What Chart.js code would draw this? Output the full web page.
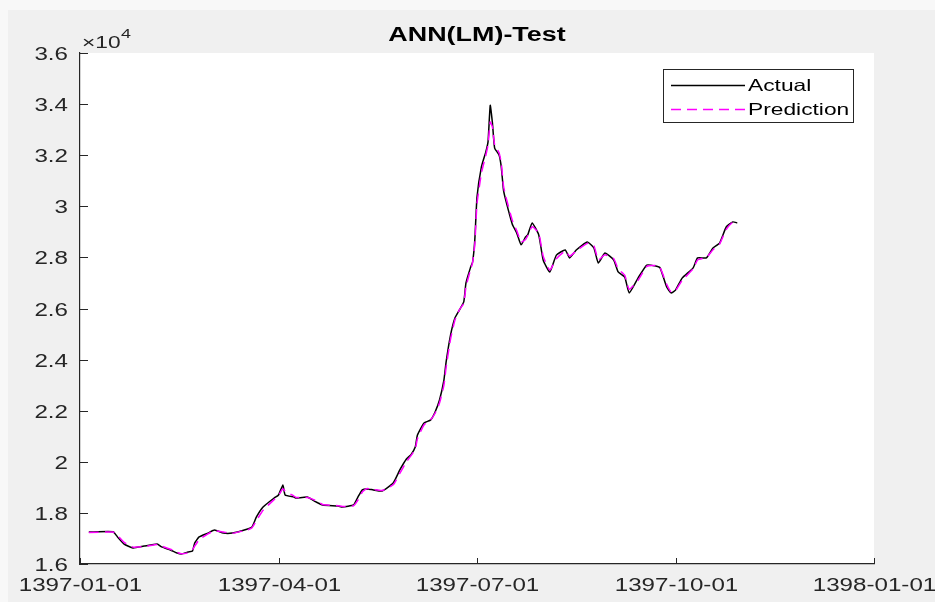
<!DOCTYPE html>
<html>
<head>
<meta charset="utf-8">
<script src="https://cdn.jsdelivr.net/npm/chart.js@4.4.1/dist/chart.umd.min.js"></script>
<style>
  html, body { margin: 0; padding: 0; background: #f0f0f0; }
  canvas { display: block; }
</style>
</head>
<body>
<canvas id="annChart" width="935" height="602"></canvas>
<script>
// day of year 1397 (90 days per quarter on the axis)
const days = [
  4, 15, 17, 20, 24, 29, 35, 37, 41, 44,
  46, 49, 51, 52, 54, 58, 61, 65, 69, 76,
  78, 80, 83, 88, 90, 92, 93, 97, 98, 103,
  107, 110, 117, 119, 124, 126, 128, 130, 133, 137,
  142, 145, 148, 150, 152, 153, 156, 159, 161, 163,
  165, 166, 168, 170, 172, 174, 175, 177, 178, 179,
  180, 182, 184, 185, 186, 187, 188, 190, 191, 192,
  193, 196, 198, 200, 202, 203, 205, 208, 210, 213,
  216, 220, 222, 225, 230, 233, 235, 238, 242, 244,
  247, 249, 253, 257, 261, 263, 266, 268, 270, 273,
  278, 280, 284, 287, 290, 293, 296, 298
]

const actual = [
  17250, 17260, 17060, 16780, 16630, 16700, 16780, 16670, 16550, 16430,
  16390, 16470, 16510, 16820, 17060, 17210, 17330, 17210, 17210, 17370,
  17450, 17840, 18230, 18580, 18700, 19090, 18700, 18620, 18580, 18620,
  18430, 18310, 18270, 18230, 18310, 18620, 18900, 18940, 18900, 18860,
  19170, 19680, 20110, 20270, 20580, 21050, 21520, 21640, 21950, 22420,
  23200, 23910, 24960, 25630, 25940, 26260, 27000, 27590, 27820, 28680,
  30360, 31540, 32130, 32520, 33950, 33260, 32280, 32010, 31540, 30640,
  30250, 29300, 28960, 28490, 28800, 28880, 29350, 28880, 27900, 27430,
  28090, 28290, 27980, 28290, 28600, 28370, 27780, 28170, 27900, 27430,
  27230, 26610, 27190, 27700, 27660, 27590, 26840, 26610, 26720, 27190,
  27590, 27980, 27980, 28370, 28560, 29190, 29390, 29350
]

const prediction = [
  17230, 17250, 17120, 16850, 16660, 16680, 16760, 16700, 16580, 16460,
  16400, 16440, 16560, 16700, 16950, 17180, 17300, 17250, 17200, 17340,
  17420, 17700, 18100, 18520, 18680, 18950, 18850, 18660, 18600, 18600,
  18480, 18330, 18280, 18250, 18280, 18500, 18820, 18950, 18920, 18880,
  19100, 19550, 20000, 20230, 20500, 20900, 21450, 21650, 21900, 22300,
  23000, 23700, 24800, 25550, 25950, 26200, 26850, 27500, 27800, 28500,
  30100, 31300, 32000, 32400, 33300, 33100, 32400, 32100, 31700, 30800,
  30400, 29450, 29050, 28600, 28700, 28850, 29200, 28950, 28050, 27500,
  27950, 28250, 28050, 28250, 28550, 28450, 27900, 28100, 27950, 27550,
  27300, 26750, 27100, 27650, 27680, 27600, 26950, 26650, 26700, 27100,
  27550, 27900, 28000, 28300, 28520, 29100, 29380, 29300
]

const xTickDays = [0, 90, 180, 270, 360]
const xTickLabels = ["1397-01-01", "1397-04-01", "1397-07-01", "1397-10-01", "1398-01-01"]

const AXIS = "#262626"
const STRETCH = 1.38 // the reference text is wider than it is tall

function toPoints(values) {
  return values.map((v, i) => ({ x: days[i], y: v }))
}

function stretchedText(ctx, text, x, y, font, align, color) {
  ctx.save()
  ctx.translate(x, y)
  ctx.scale(STRETCH, 1)
  ctx.font = font
  ctx.fillStyle = color
  ctx.textAlign = align
  ctx.textBaseline = "middle"
  ctx.fillText(text, 0, 0)
  ctx.restore()
}

// MATLAB-like figure: grey figure, white axes, inward ticks, boxed legend
const matlabLook = {
  id: "matlabLook",
  beforeDraw(chart) {
    const { ctx, chartArea: a } = chart
    ctx.save()
    ctx.fillStyle = "#f0f0f0"
    ctx.fillRect(0, 0, chart.width, chart.height)
    ctx.fillStyle = "#f8f8f8"
    ctx.fillRect(0, 0, chart.width, 10)
    ctx.fillRect(0, 0, 8, chart.height)
    ctx.fillStyle = "#ffffff"
    ctx.fillRect(a.left, a.top, a.right - a.left, a.bottom - a.top)
    ctx.restore()
  },
  afterDraw(chart) {
    const { ctx, chartArea: a } = chart
    const xs = chart.scales.x
    const ys = chart.scales.y
    const font = "17.5px 'Liberation Sans', Arial, sans-serif"

    ctx.save()
    ctx.strokeStyle = AXIS
    ctx.lineWidth = 1
    // y ticks + labels
    ys.ticks.forEach((t) => {
      const py = Math.round(ys.getPixelForValue(t.value)) + 0.5
      ctx.beginPath()
      ctx.moveTo(a.left, py)
      ctx.lineTo(a.left + 8, py)
      ctx.stroke()
      stretchedText(ctx, t.label, 68, py + 2, font, "right", AXIS)
    })
    // x ticks + labels
    xs.ticks.forEach((t) => {
      const px = Math.round(xs.getPixelForValue(t.value)) + 0.5
      ctx.beginPath()
      ctx.moveTo(px, a.bottom)
      ctx.lineTo(px, a.bottom - 6)
      ctx.stroke()
      stretchedText(ctx, t.label, px, a.bottom + 22, font, "center", AXIS)
    })

    // exponent label
    stretchedText(ctx, "\u00d710", 82, 43, "16.5px 'Liberation Sans', Arial, sans-serif", "left", AXIS)
    stretchedText(ctx, "4", 121, 34, "13px 'Liberation Sans', Arial, sans-serif", "left", AXIS)

    // title
    stretchedText(ctx, "ANN(LM)-Test", (a.left + a.right) / 2, 36,
      "bold 19.5px 'Liberation Sans', Arial, sans-serif", "center", "#000000")

    // legend
    const lx = 663.5, ly = 69.5, lw = 190, lh = 53
    ctx.fillStyle = "#ffffff"
    ctx.fillRect(lx, ly, lw, lh)
    ctx.strokeStyle = AXIS
    ctx.lineWidth = 1
    ctx.strokeRect(lx, ly, lw, lh)
    chart.data.datasets.forEach((ds, i) => {
      const ry = ly + 16 + i * 24
      ctx.save()
      ctx.strokeStyle = ds.borderColor
      ctx.lineWidth = ds.borderWidth
      ctx.setLineDash(ds.borderDash || [])
      ctx.beginPath()
      ctx.moveTo(671, ry)
      ctx.lineTo(745, ry)
      ctx.stroke()
      ctx.restore()
      stretchedText(ctx, ds.label, 748, ry + 1, "16.5px 'Liberation Sans', Arial, sans-serif", "left", "#000000")
    })
    ctx.restore()
  },
}

const ctx = document.getElementById("annChart").getContext("2d")
new Chart(ctx, {
  type: "line",
  data: {
    datasets: [
      {
        label: "Actual",
        data: toPoints(actual),
        borderColor: "#000000",
        borderWidth: 1.5,
        pointRadius: 0,
        tension: 0.15,
        order: 2,
      },
      {
        label: "Prediction",
        data: toPoints(prediction),
        borderColor: "#ff00ff",
        borderWidth: 1.5,
        borderDash: [10, 6],
        pointRadius: 0,
        tension: 0.15,
        order: 1,
      },
    ],
  },
  options: {
    responsive: false,
    animation: false,
    events: [],
    layout: { padding: { top: 53, right: 61, left: 0, bottom: 0 } },
    plugins: {
      legend: { display: false },
      title: { display: false },
      tooltip: { enabled: false },
    },
    scales: {
      x: {
        type: "linear",
        min: 0,
        max: 360,
        afterBuildTicks: (scale) => {
          scale.ticks = xTickDays.map((v) => ({ value: v }))
        },
        ticks: {
          display: false,
          callback: (v) => xTickLabels[xTickDays.indexOf(v)],
        },
        grid: { display: false },
        border: { display: true, color: AXIS, width: 1.2 },
        afterFit: (scale) => { scale.height = 38 },
      },
      y: {
        min: 16000,
        max: 36000,
        ticks: {
          display: false,
          stepSize: 2000,
          callback: (v) => String(parseFloat((v / 10000).toFixed(1))),
        },
        grid: { display: false },
        border: { display: true, color: AXIS, width: 1.2 },
        afterFit: (scale) => { scale.width = 80 },
      },
    },
  },
  plugins: [matlabLook],
})
</script>
</body>
</html>
